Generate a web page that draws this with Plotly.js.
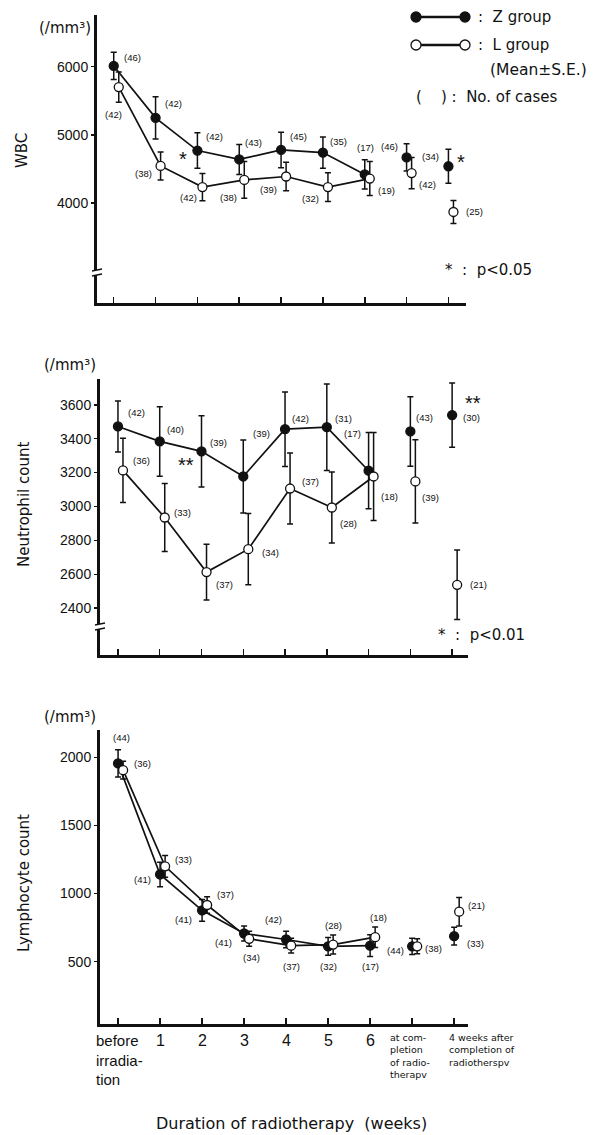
<!DOCTYPE html>
<html><head><meta charset="utf-8">
<script src="https://cdn.plot.ly/plotly-3.0.1.min.js"></script>
<style>body{margin:0;background:#fff}#chart{width:616px;height:1135px}</style>
</head><body><div id="chart"></div>
<script>
// ---------------- DATA ----------------
const categories = ['before irradiation','1','2','3','4','5','6','at completion of radiotherapy','4 weeks after completion of radiotherapy'];
const tickLabels = ['before<br>irradia-<br>tion','1','2','3','4','5','6','at com-<br>pletion<br>of radio-<br>therapv','4 weeks after<br>completion of<br>radiotherspv'];
const yTitleText = ['WBC', 'Neutrophil count', 'Lymphocyte count'];
const xTitleText = 'Duration of radiotherapy  (weeks)';
const unitText = '(/mm\u00b3)';

// WBC (/mm3)
const wbcZ   = [6010, 5250, 4770, 4640, 4780, 4740, 4420, 4670, 4540];
const wbcZse = [200, 310, 260, 220, 260, 230, 215, 200, 250];
const wbcZn  = [46, 42, 42, 43, 45, 35, 17, 46, 34];
const wbcL   = [5700, 4545, 4235, 4340, 4390, 4235, 4360, 4440, 3870];
const wbcLse = [220, 205, 200, 270, 210, 210, 250, 230, 170];
const wbcLn  = [42, 38, 42, 38, 39, 32, 19, 42, 25];

// Neutrophil count (/mm3)
const neuZ   = [3472, 3384, 3325, 3177, 3456, 3468, 3211, 3443, 3539];
const neuZse = [150, 205, 210, 215, 220, 255, 225, 205, 190];
const neuZn  = [42, 40, 39, 39, 42, 31, 17, 43, 30];
const neuL   = [3213, 2935, 2613, 2748, 3106, 2994, 3177, 3148, 2538];
const neuLse = [190, 200, 165, 210, 210, 210, 260, 245, 205];
const neuLn  = [36, 33, 37, 34, 37, 28, 18, 39, 21];

// Lymphocyte count (/mm3)
const lymZ   = [1955, 1140, 877, 707, 663, 613, 618, 613, 687];
const lymZse = [100, 90, 80, 55, 60, 65, 80, 60, 65];
const lymZn  = [44, 41, 41, 41, 42, 32, 17, 44, 33];
const lymL   = [1905, 1200, 916, 668, 618, 626, 680, 613, 867];
const lymLse = [65, 80, 60, 55, 55, 70, 75, 55, 105];
const lymLn  = [36, 33, 37, 34, 37, 28, 18, 38, 21];

// ---------------- LAYOUT / STYLE ----------------
const W = 616, H = 1135;
const px = v => v / W, py = v => 1 - v / H;
const FONT = 'Liberation Sans, Arial, sans-serif';
const WIDE = 'DejaVu Sans, Verdana, sans-serif';
const NARROW = 'Liberation Sans Narrow, Arial Narrow, Liberation Sans, Arial, sans-serif';
const INK = '#111';
const L_OFFSET = 0.12;

// label offsets [xshift, yshift] (px) for the "(n)" annotations
const panels = [
  { Z: wbcZ, Zse: wbcZse, Zn: wbcZn, L: wbcL, Lse: wbcLse, Ln: wbcLn,
    xdom: [97, 466], ydom: [15, 303], xr: [-0.40, 8.42], yr: [2536, 6757], tickvals: [4000, 5000, 6000],
    zpos: [[19,8],[18,14],[17,14],[14,17],[17,13],[16,11],[1,27],[-17,11],[-18,10]],
    lpos: [[-5,-27],[-17,-8],[-14,-10],[-16,-18],[-18,-13],[-17,-11],[17,-12],[16,-11],[21,0]] },
  { Z: neuZ, Zse: neuZse, Zn: neuZn, L: neuL, Lse: neuLse, Ln: neuLn,
    xdom: [100, 468], ydom: [379, 655], xr: [-0.43, 8.38], yr: [2124, 3752], tickvals: [2400, 2600, 2800, 3000, 3200, 3400, 3600],
    zpos: [[19,14],[16,12],[17,9],[18,43],[15,11],[17,9],[-16,37],[14,14],[19,-2]],
    lpos: [[19,10],[18,5],[18,-12],[22,-3],[20,7],[17,-16],[16,-20],[15,-16],[21,0]] },
  { Z: lymZ, Zse: lymZse, Zn: lymZn, L: lymL, Lse: lymLse, Ln: lymLn,
    xdom: [100, 468], ydom: [730, 1024], xr: [-0.43, 8.33], yr: [43, 2200], tickvals: [500, 1000, 1500, 2000],
    zpos: [[3,26],[-18,-5],[-19,-9],[-21,-9],[-13,20],[0,-20],[0,-21],[-17,-4],[21,-7]],
    lpos: [[19,7],[18,7],[18,11],[2,-19],[0,-21],[0,19],[3,20],[16,-2],[17,6]] }
];
const unitPos = [[65, 28], [70, 365], [70, 717]];
const yTitlePos = [[22, 151], [24, 505], [24, 883]];

const traces = [];
const annotations = [];
const shapes = [];
const layout = {
  width: W, height: H, margin: {l: 0, r: 0, t: 0, b: 0},
  paper_bgcolor: '#fff', plot_bgcolor: 'rgba(0,0,0,0)',
  showlegend: false, font: {family: FONT, color: INK},
  annotations, shapes
};

// paper-positioned text helper (explicit anchors)
function ptext(text, x, y, opts) {
  annotations.push(Object.assign({xref: 'paper', yref: 'paper', x: px(x), y: py(y), text, showarrow: false,
    xanchor: 'center', yanchor: 'middle', font: {family: FONT, size: 15, color: INK}}, opts || {}));
}

const idxs = categories.map((c, i) => i);

panels.forEach((p, k) => {
  const n = k === 0 ? '' : String(k + 1);
  const xa = 'x' + n, ya = 'y' + n;
  layout['xaxis' + n] = {
    domain: [px(p.xdom[0]), px(p.xdom[1])], range: p.xr, anchor: ya,
    showline: true, linewidth: 3, linecolor: INK, showgrid: false, zeroline: false,
    ticks: 'inside', ticklen: 6, tickwidth: 1.5, tickcolor: INK,
    tickmode: 'array', tickvals: idxs, showticklabels: false, fixedrange: true
  };
  layout['yaxis' + n] = {
    domain: [py(p.ydom[1]), py(p.ydom[0])], range: p.yr, anchor: xa,
    showline: true, linewidth: 3, linecolor: INK, showgrid: false, zeroline: false,
    ticks: 'outside', ticklen: 3, tickwidth: 1.5, tickcolor: INK,
    tickmode: 'array', tickvals: p.tickvals, ticktext: p.tickvals.map(String),
    tickfont: {family: FONT, size: 14, color: INK}, fixedrange: true
  };

  const groups = [
    {vals: p.Z, se: p.Zse, ns: p.Zn, pos: p.zpos, off: 0, fill: INK, name: 'Z group'},
    {vals: p.L, se: p.Lse, ns: p.Ln, pos: p.lpos, off: L_OFFSET, fill: '#fff', name: 'L group'}
  ];
  groups.forEach(g => {
    const xs = idxs.map(i => i + g.off);
    const marker = {size: 9, color: g.fill, line: {color: INK, width: 1.3}};
    const err = (a) => ({type: 'data', array: a, visible: true, color: INK, thickness: 1.5, width: 3});
    // connected weekly series
    traces.push({
      type: 'scatter', mode: 'lines+markers', name: g.name, xaxis: xa, yaxis: ya,
      x: xs.slice(0, 7), y: g.vals.slice(0, 7),
      line: {color: INK, width: 1.7}, marker, error_y: err(g.se.slice(0, 7))
    });
    // separate points (completion / 4 weeks after)
    traces.push({
      type: 'scatter', mode: 'markers', name: g.name, xaxis: xa, yaxis: ya,
      x: xs.slice(7), y: g.vals.slice(7), marker, error_y: err(g.se.slice(7))
    });
    g.ns.forEach((cnt, i) => {
      annotations.push({
        xref: xa, yref: ya, x: xs[i], y: g.vals[i], text: '(' + cnt + ')', showarrow: false,
        xanchor: 'center', yanchor: 'middle',
        xshift: g.pos[i][0], yshift: g.pos[i][1], font: {family: NARROW, size: 9.5, color: INK}
      });
    });
  });

  ptext(unitText, unitPos[k][0], unitPos[k][1], {font: {family: WIDE, size: 15, color: INK}});
  ptext(yTitleText[k], yTitlePos[k][0], yTitlePos[k][1], {textangle: -90, font: {family: WIDE, size: 15, color: INK}});
});

// significance marks
const star = (xa, ya, x, y, t, xs, ys) => annotations.push({xref: xa, yref: ya, x, y, text: t, showarrow: false,
  xanchor: 'center', yanchor: 'middle', xshift: xs, yshift: ys, font: {family: FONT, size: 20, color: INK}});
star('x', 'y', 2, wbcZ[2], '*', -14, -8);
star('x', 'y', 8, wbcZ[8], '*', 13, 4);
star('x2', 'y2', 2, neuZ[2], '**', -16, -14);
star('x2', 'y2', 8, neuZ[8], '**', 21, 12);
ptext('*  :  p<0.05', 443, 270, {xanchor: 'left', font: {family: WIDE, size: 15, color: INK}});
ptext('*  :  p<0.01', 436, 635, {xanchor: 'left', font: {family: WIDE, size: 15, color: INK}});

// legend (custom)
[[17, INK, ':  Z group'], [45, '#fff', ':  L group']].forEach(l => {
  shapes.push({type: 'line', xref: 'paper', yref: 'paper', x0: px(416), x1: px(465), y0: py(l[0]), y1: py(l[0]), line: {color: INK, width: 2.5}});
  [416, 465].forEach(cx => shapes.push({type: 'circle', xref: 'paper', yref: 'paper',
    x0: px(cx - 5), x1: px(cx + 5), y0: py(l[0] + 5), y1: py(l[0] - 5),
    fillcolor: l[1], line: {color: INK, width: 1.3}}));
  ptext(l[2], 476, l[0], {xanchor: 'left', font: {family: WIDE, size: 15, color: INK}});
});
ptext('(Mean\u00b1S.E.)', 488, 70, {xanchor: 'left', font: {family: WIDE, size: 15.5, color: INK}});
ptext('(\u00a0\u00a0\u00a0\u00a0) :  No. of cases', 414, 97, {xanchor: 'left', font: {family: WIDE, size: 15, color: INK}});

// axis breaks
[[97, 270], [100, 624]].forEach(b => {
  shapes.push({type: 'rect', xref: 'paper', yref: 'paper', x0: px(b[0] - 3), x1: px(b[0] + 3), y0: py(b[1] + 5), y1: py(b[1]), fillcolor: '#fff', line: {width: 0}});
  shapes.push({type: 'line', xref: 'paper', yref: 'paper', x0: px(b[0] - 5), x1: px(b[0] + 5), y0: py(b[1] + 1), y1: py(b[1] - 1), line: {color: INK, width: 1.5}});
  shapes.push({type: 'line', xref: 'paper', yref: 'paper', x0: px(b[0] - 5), x1: px(b[0] + 5), y0: py(b[1] + 6), y1: py(b[1] + 4), line: {color: INK, width: 1.5}});
});

// x tick labels (bottom panel)
tickLabels.forEach((t, i) => {
  const small = i >= 7;
  const a = {xref: 'x3', yref: 'paper', x: i, y: py(1030), yanchor: 'top', xanchor: 'center', text: t, showarrow: false,
    font: {family: small ? WIDE : FONT, size: small ? 9.5 : (i === 0 ? 15 : 16), color: INK}};
  if (i === 0) { a.xanchor = 'left'; a.align = 'left'; a.xshift = -24; }
  else if (i === 7) { a.xanchor = 'left'; a.align = 'left'; a.xshift = -24; }
  else if (i === 8) { a.xanchor = 'left'; a.align = 'left'; a.xshift = -7; }
  annotations.push(a);
});

// x axis title
ptext(xTitleText, 291, 1123, {font: {family: WIDE, size: 16, color: INK}});

Plotly.newPlot('chart', traces, layout, {staticPlot: true, displayModeBar: false});
</script>
</body></html>
